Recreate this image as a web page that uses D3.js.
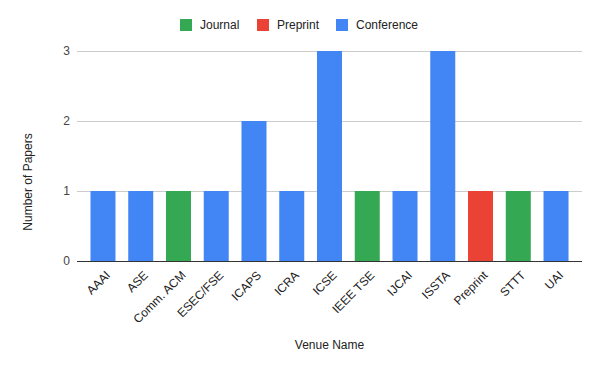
<!DOCTYPE html>
<html>
<head>
<meta charset="utf-8">
<script src="https://cdn.jsdelivr.net/npm/d3@7"></script>
<style>
  body { margin: 0; background: #fff; }
  svg { font-family: "Liberation Sans", Arial, sans-serif; }
</style>
</head>
<body>
<script>
// venues, paper counts and venue type
var venues = ["AAAI", "ASE", "Comm. ACM", "ESEC/FSE", "ICAPS", "ICRA", "ICSE", "IEEE TSE", "IJCAI", "ISSTA", "Preprint", "STTT", "UAI"];
var counts = [1, 1, 1, 1, 2, 1, 3, 1, 1, 3, 1, 1, 1];
var types = ["Conference", "Conference", "Journal", "Conference", "Conference", "Conference", "Conference", "Journal", "Conference", "Conference", "Preprint", "Journal", "Conference"];
var legendNames = ["Journal", "Preprint", "Conference"];
var legendColors = ["#34a853", "#ea4335", "#4285f4"];
var yTicks = [0, 1, 2, 3];

var data = venues.map(function(v, i) { return { venue: v, count: counts[i], type: types[i] }; });

var width = 600, height = 371;
var margin = {top: 51, right: 18, bottom: 110, left: 77};
var w = width - margin.left - margin.right,
    h = height - margin.top - margin.bottom;

var svg = d3.select("body").append("svg")
    .attr("width", width)
    .attr("height", height);

var color = d3.scaleOrdinal().domain(legendNames).range(legendColors);

var x = d3.scaleBand().domain(venues).range([0, w])
    .paddingInner(0.338).paddingOuter(0.357);
var y = d3.scaleLinear().domain([0, 3]).range([h, 0]);

var g = svg.append("g")
    .attr("transform", "translate(" + margin.left + "," + margin.top + ")");

// gridlines
g.selectAll(".grid")
  .data(yTicks.filter(function(d) { return d > 0; }))
  .enter().append("line")
    .attr("x1", 0).attr("x2", w)
    .attr("y1", function(d) { return Math.round(y(d)) + 0.5; })
    .attr("y2", function(d) { return Math.round(y(d)) + 0.5; })
    .attr("stroke", "#cccccc");

// y labels
g.selectAll(".ylab")
  .data(yTicks)
  .enter().append("text")
    .attr("x", -7)
    .attr("y", function(d) { return y(d); })
    .attr("dy", "0.35em")
    .attr("text-anchor", "end")
    .attr("font-size", 12)
    .attr("fill", "#444")
    .text(function(d) { return d; });

// bars
g.selectAll(".bar")
  .data(data)
  .enter().append("rect")
    .attr("x", function(d) { return x(d.venue); })
    .attr("y", function(d) { return y(d.count); })
    .attr("width", x.bandwidth())
    .attr("height", function(d) { return h - y(d.count); })
    .attr("fill", function(d) { return color(d.type); });

// baseline
g.append("line")
    .attr("x1", 0).attr("x2", w)
    .attr("y1", h + 0.5).attr("y2", h + 0.5)
    .attr("stroke", "#333333");

// x labels
g.selectAll(".xlab")
  .data(venues)
  .enter().append("text")
    .attr("transform", function(d) {
      return "translate(" + (x(d) + x.bandwidth() / 2 + 5) + "," + (h + 12) + ") rotate(-45)";
    })
    .attr("dy", "0.35em")
    .attr("text-anchor", "end")
    .attr("font-size", 12)
    .attr("fill", "#222")
    .text(function(d) { return d; });

// axis titles
svg.append("text")
    .attr("x", margin.left + w / 2)
    .attr("y", 349)
    .attr("text-anchor", "middle")
    .attr("font-size", 12)
    .attr("fill", "#222")
    .text("Venue Name");

svg.append("text")
    .attr("transform", "translate(32,182) rotate(-90)")
    .attr("text-anchor", "middle")
    .attr("font-size", 12)
    .attr("fill", "#222")
    .text("Number of Papers");

// legend
var legendX = [180, 257, 336];
var lg = svg.selectAll(".legend")
  .data(legendNames)
  .enter().append("g")
    .attr("transform", function(d, i) { return "translate(" + legendX[i] + ",19)"; });
lg.append("rect")
    .attr("width", 12).attr("height", 12)
    .attr("fill", function(d) { return color(d); });
lg.append("text")
    .attr("x", 20).attr("y", 6)
    .attr("dy", "0.35em")
    .attr("font-size", 12)
    .attr("fill", "#222")
    .text(function(d) { return d; });
</script>
</body>
</html>
